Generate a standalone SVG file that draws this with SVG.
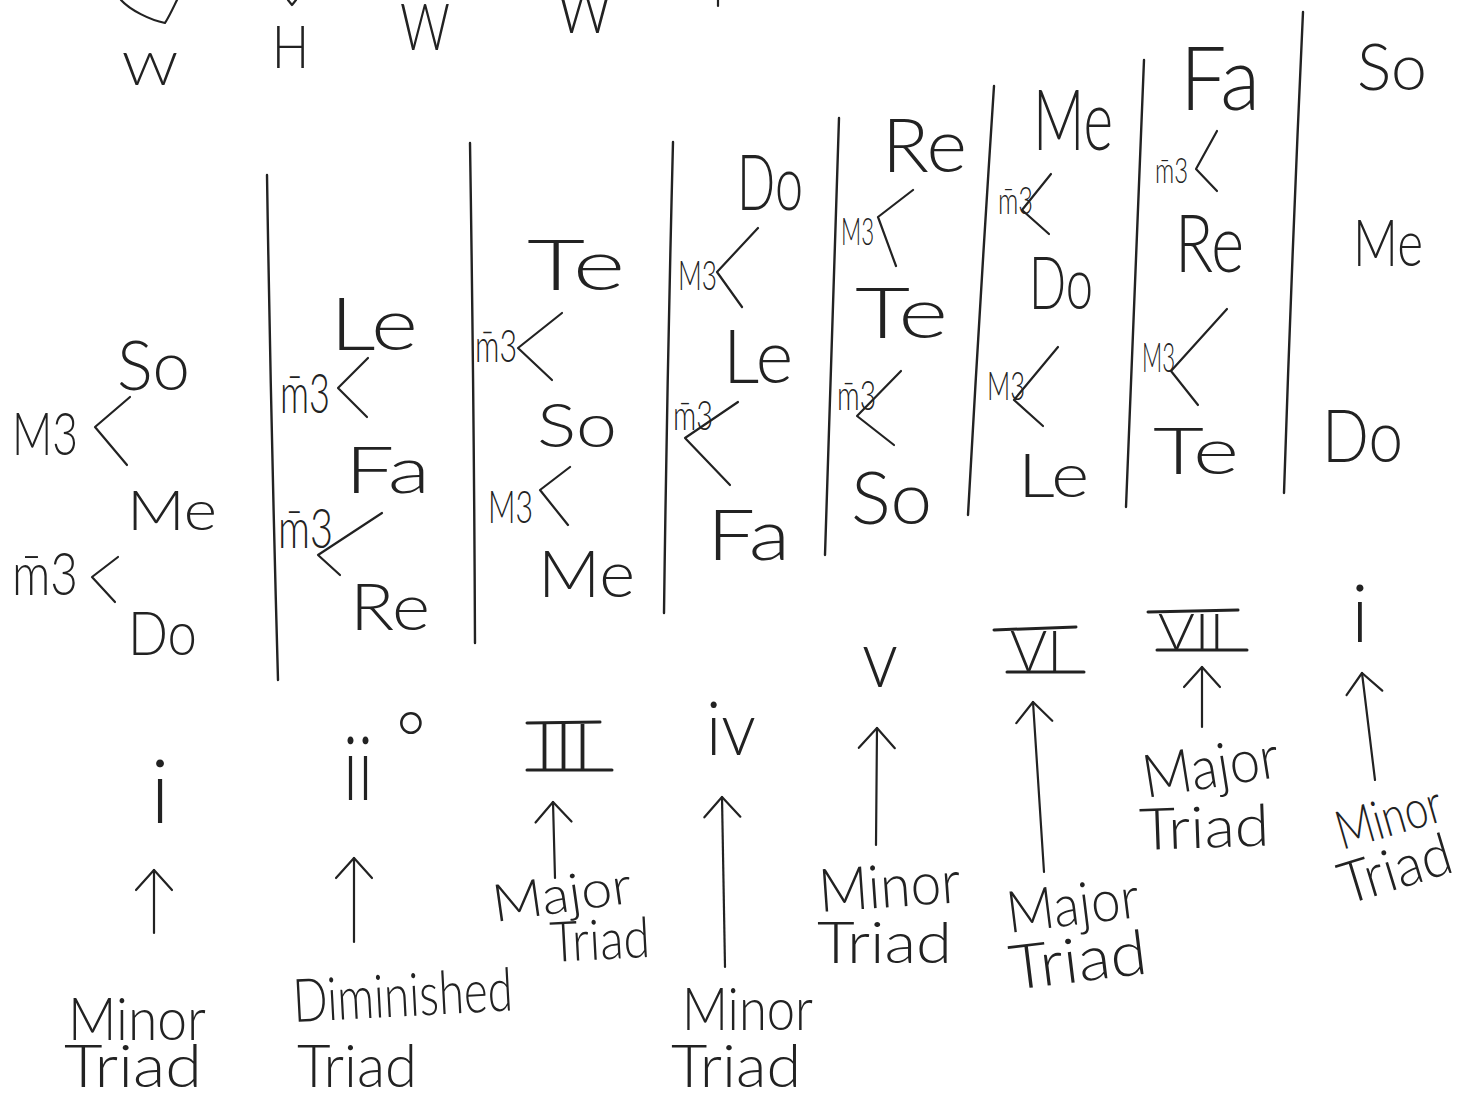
<svg xmlns="http://www.w3.org/2000/svg" width="1469" height="1099" viewBox="0 0 1469 1099">
<style>
text{font-family:Lato,"Open Sans","Liberation Sans",sans-serif;font-weight:300;fill:#222}
.ln{fill:none;stroke:#222;stroke-width:2.2;stroke-linecap:round;stroke-linejoin:round}
.bar{fill:none;stroke:#222;stroke-width:3;stroke-linecap:round}
.arrow{fill:none;stroke:#222;stroke-width:2.2;stroke-linecap:round;marker-end:url(#ah)}
.div{fill:none;stroke:#222;stroke-width:2.4;stroke-linecap:round}
</style>
<defs>
<marker id="ah" markerUnits="userSpaceOnUse" markerWidth="24" markerHeight="40" refX="21" refY="20" orient="auto" overflow="visible"><path d="M1,2 L21,20 L1,38" class="ln"/></marker>
</defs>
<rect width="1469" height="1099" fill="#fff"/>

<g id="top-steps">
<path class="ln" d="M121,0 C130,10 150,20 165,23 C170,15 174,6 177,0"/>
<path class="ln" d="M288,0 L292,5 L296,0"/>
<path class="ln" d="M718,0 L718,6"/>
<g id="step-w1"><text x="122" y="85" font-size="46" textLength="56" lengthAdjust="spacingAndGlyphs">W</text></g>
<g id="step-h"><text x="272" y="68" font-size="60" textLength="37" lengthAdjust="spacingAndGlyphs">H</text></g>
<g id="step-w2"><text x="400" y="50" font-size="65" textLength="50" lengthAdjust="spacingAndGlyphs">W</text></g>
<g id="step-w3"><text x="557" y="33" font-size="63" textLength="55" lengthAdjust="spacingAndGlyphs">W</text></g>
</g>

<g id="dividers">
<path class="div" d="M267,175 Q271,430 278,680"/>
<path class="div" d="M470,143 Q474,400 475,643"/>
<path class="div" d="M673,142 Q667,380 664,613"/>
<path class="div" d="M839,118 Q831,340 825,555"/>
<path class="div" d="M994,86 Q980,300 968,515"/>
<path class="div" d="M1144,60 Q1134,290 1126,507"/>
<path class="div" d="M1303,12 Q1292,250 1284,493"/>
</g>

<g id="connectors">
<polyline class="ln" points="130,397 95,427 127,465"/>
<polyline class="ln" points="118,557 92,577 115,602"/>
<polyline class="ln" points="368,358 338,388 367,417"/>
<polyline class="ln" points="382,513 318,555 340,575"/>
<polyline class="ln" points="562,313 518,348 552,380"/>
<polyline class="ln" points="570,467 540,490 568,525"/>
<polyline class="ln" points="758,228 717,272 742,307"/>
<polyline class="ln" points="738,402 685,438 730,485"/>
<polyline class="ln" points="913,190 878,217 896,266"/>
<polyline class="ln" points="901,371 857,416 894,445"/>
<polyline class="ln" points="1051,174 1022,210 1049,234"/>
<polyline class="ln" points="1058,347 1014,400 1043,426"/>
<polyline class="ln" points="1217,131 1196,169 1217,191"/>
<polyline class="ln" points="1227,309 1171,371 1198,405"/>
<line class="arrow" x1="154" y1="933" x2="154" y2="870"/>
<line class="arrow" x1="354" y1="942" x2="354" y2="858"/>
<line class="arrow" x1="555" y1="878" x2="553" y2="802"/>
<line class="arrow" x1="725" y1="967" x2="722" y2="797"/>
<line class="arrow" x1="876" y1="845" x2="877" y2="728"/>
<line class="arrow" x1="1044" y1="872" x2="1033" y2="702"/>
<line class="arrow" x1="1202" y1="727" x2="1202" y2="667"/>
<line class="arrow" x1="1375" y1="780" x2="1362" y2="673"/>
</g>

<g id="col1">
<g id="c1-so"><text x="117" y="390" font-size="68" textLength="73" lengthAdjust="spacingAndGlyphs">So</text></g>
<g id="c1-M3"><text x="12" y="455" font-size="60" textLength="66" lengthAdjust="spacingAndGlyphs">M3</text></g>
<g id="c1-me"><text x="127" y="530" font-size="56" textLength="90" lengthAdjust="spacingAndGlyphs">Me</text></g>
<g id="c1-m3"><text x="12" y="595" font-size="60" textLength="66" lengthAdjust="spacingAndGlyphs">m&#x304;3</text></g>
<g id="c1-do"><text x="128" y="655" font-size="62" textLength="69" lengthAdjust="spacingAndGlyphs">Do</text></g>
</g>

<g id="col2">
<g id="c2-le"><text x="330" y="350" font-size="72" textLength="88" lengthAdjust="spacingAndGlyphs">Le</text></g>
<g id="c2-m3a"><text x="280" y="413" font-size="55" textLength="50" lengthAdjust="spacingAndGlyphs">m&#x304;3</text></g>
<g id="c2-fa"><text x="345" y="493" font-size="66" textLength="85" lengthAdjust="spacingAndGlyphs">Fa</text></g>
<g id="c2-m3b"><text x="278" y="548" font-size="55" textLength="55" lengthAdjust="spacingAndGlyphs">m&#x304;3</text></g>
<g id="c2-re"><text x="350" y="630" font-size="66" textLength="80" lengthAdjust="spacingAndGlyphs">Re</text></g>
</g>

<g id="col3">
<g id="c3-te"><text x="527" y="290" font-size="70" textLength="98" lengthAdjust="spacingAndGlyphs">Te</text></g>
<g id="c3-m3"><text x="475" y="362" font-size="45" textLength="42" lengthAdjust="spacingAndGlyphs">m&#x304;3</text></g>
<g id="c3-so"><text x="537" y="447" font-size="62" textLength="80" lengthAdjust="spacingAndGlyphs">So</text></g>
<g id="c3-M3"><text x="488" y="523" font-size="45" textLength="45" lengthAdjust="spacingAndGlyphs">M3</text></g>
<g id="c3-me"><text x="538" y="597" font-size="66" textLength="97" lengthAdjust="spacingAndGlyphs">Me</text></g>
</g>

<g id="col4">
<g id="c4-do"><text x="737" y="210" font-size="76" textLength="66" lengthAdjust="spacingAndGlyphs">Do</text></g>
<g id="c4-M3"><text x="678" y="290" font-size="42" textLength="39" lengthAdjust="spacingAndGlyphs">M3</text></g>
<g id="c4-le"><text x="723" y="383" font-size="74" textLength="70" lengthAdjust="spacingAndGlyphs">Le</text></g>
<g id="c4-m3"><text x="673" y="430" font-size="42" textLength="40" lengthAdjust="spacingAndGlyphs">m&#x304;3</text></g>
<g id="c4-fa"><text x="707" y="560" font-size="70" textLength="83" lengthAdjust="spacingAndGlyphs">Fa</text></g>
</g>

<g id="col5">
<g id="c5-re"><text x="882" y="172" font-size="74" textLength="85" lengthAdjust="spacingAndGlyphs">Re</text></g>
<g id="c5-M3"><text x="841" y="245" font-size="38" textLength="33" lengthAdjust="spacingAndGlyphs">M3</text></g>
<g id="c5-te"><text x="855" y="338" font-size="70" textLength="93" lengthAdjust="spacingAndGlyphs">Te</text></g>
<g id="c5-m3"><text x="837" y="410" font-size="42" textLength="39" lengthAdjust="spacingAndGlyphs">m&#x304;3</text></g>
<g id="c5-so"><text x="851" y="524" font-size="72" textLength="81" lengthAdjust="spacingAndGlyphs">So</text></g>
</g>

<g id="col6">
<g id="c6-me"><text x="1033" y="150" font-size="84" textLength="80" lengthAdjust="spacingAndGlyphs">Me</text></g>
<g id="c6-m3"><text x="998" y="214" font-size="38" textLength="35" lengthAdjust="spacingAndGlyphs">m&#x304;3</text></g>
<g id="c6-do"><text x="1029" y="309" font-size="72" textLength="64" lengthAdjust="spacingAndGlyphs">Do</text></g>
<g id="c6-M3"><text x="987" y="400" font-size="40" textLength="38" lengthAdjust="spacingAndGlyphs">M3</text></g>
<g id="c6-le"><text x="1018" y="497" font-size="62" textLength="71" lengthAdjust="spacingAndGlyphs">Le</text></g>
</g>

<g id="col7">
<g id="c7-fa"><text x="1180" y="110" font-size="88" textLength="80" lengthAdjust="spacingAndGlyphs">Fa</text></g>
<g id="c7-m3"><text x="1155" y="183" font-size="36" textLength="33" lengthAdjust="spacingAndGlyphs">m&#x304;3</text></g>
<g id="c7-re"><text x="1175" y="272" font-size="80" textLength="69" lengthAdjust="spacingAndGlyphs">Re</text></g>
<g id="c7-M3"><text x="1142" y="372" font-size="42" textLength="33" lengthAdjust="spacingAndGlyphs">M3</text></g>
<g id="c7-te"><text x="1153" y="474" font-size="66" textLength="86" lengthAdjust="spacingAndGlyphs">Te</text></g>
</g>

<g id="col8">
<g id="c8-so"><text x="1357" y="90" font-size="66" textLength="70" lengthAdjust="spacingAndGlyphs">So</text></g>
<g id="c8-me"><text x="1353" y="266" font-size="66" textLength="70" lengthAdjust="spacingAndGlyphs">Me</text></g>
<g id="c8-do"><text x="1322" y="462" font-size="72" textLength="81" lengthAdjust="spacingAndGlyphs">Do</text></g>
</g>

<g id="numerals">
<g id="n-i"><text x="160" y="823" font-size="88" text-anchor="middle">i</text></g>
<g id="n-ii"><text x="343" y="800" font-size="88" textLength="30" lengthAdjust="spacingAndGlyphs">ii</text><text x="396" y="765" font-size="72">°</text></g>
<g id="n-III"><line class="bar" x1="527" y1="723" x2="600" y2="722"/><line class="bar" x1="527" y1="770" x2="612" y2="770"/><text x="535" y="770" font-size="65" textLength="57" lengthAdjust="spacingAndGlyphs">III</text></g>
<g id="n-iv"><text x="706" y="755" font-size="75" textLength="50" lengthAdjust="spacingAndGlyphs">iv</text></g>
<g id="n-v"><text x="862" y="687" font-size="80" textLength="36" lengthAdjust="spacingAndGlyphs">v</text></g>
<g id="n-VI"><line class="bar" x1="994" y1="630" x2="1076" y2="627"/><line class="bar" x1="1007" y1="672" x2="1084" y2="672"/><text x="1010" y="672" font-size="58" textLength="52" lengthAdjust="spacingAndGlyphs">VI</text></g>
<g id="n-VII"><line class="bar" x1="1148" y1="612" x2="1238" y2="610"/><line class="bar" x1="1157" y1="650" x2="1247" y2="650"/><text x="1158" y="650" font-size="52" textLength="66" lengthAdjust="spacingAndGlyphs">VII</text></g>
<g id="n-i2"><text x="1360" y="642" font-size="80" text-anchor="middle">i</text></g>
</g>

<g id="qualities">
<g id="q1"><text x="68" y="1040" font-size="60" textLength="138" lengthAdjust="spacingAndGlyphs">Minor</text><text x="64" y="1087" font-size="60" textLength="138" lengthAdjust="spacingAndGlyphs">Triad</text></g>
<g id="q2"><text x="294" y="1022" font-size="60" textLength="220" lengthAdjust="spacingAndGlyphs" transform="rotate(-3 294 1022)">Diminished</text><text x="297" y="1087" font-size="60" textLength="120" lengthAdjust="spacingAndGlyphs">Triad</text></g>
<g id="q3"><text x="495" y="922" font-size="52" textLength="140" lengthAdjust="spacingAndGlyphs" transform="rotate(-8 495 922)">Major</text><text x="551" y="962" font-size="56" textLength="100" lengthAdjust="spacingAndGlyphs" transform="rotate(-3 551 962)">Triad</text></g>
<g id="q4"><text x="682" y="1030" font-size="60" textLength="131" lengthAdjust="spacingAndGlyphs">Minor</text><text x="671" y="1087" font-size="60" textLength="130" lengthAdjust="spacingAndGlyphs">Triad</text></g>
<g id="q5"><text x="820" y="912" font-size="60" textLength="142" lengthAdjust="spacingAndGlyphs" transform="rotate(-4 820 912)">Minor</text><text x="817" y="963" font-size="58" textLength="135" lengthAdjust="spacingAndGlyphs">Triad</text></g>
<g id="q6"><text x="1009" y="933" font-size="58" textLength="133" lengthAdjust="spacingAndGlyphs" transform="rotate(-7 1009 933)">Major</text><text x="1012" y="990" font-size="62" textLength="138" lengthAdjust="spacingAndGlyphs" transform="rotate(-7 1012 990)">Triad</text></g>
<g id="q7"><text x="1146" y="798" font-size="60" textLength="137" lengthAdjust="spacingAndGlyphs" transform="rotate(-9 1146 798)">Major</text><text x="1140" y="850" font-size="58" textLength="130" lengthAdjust="spacingAndGlyphs" transform="rotate(-2 1140 850)">Triad</text></g>
<g id="q8"><text x="1342" y="850" font-size="54" textLength="108" lengthAdjust="spacingAndGlyphs" transform="rotate(-16 1342 850)">Minor</text><text x="1346" y="905" font-size="58" textLength="115" lengthAdjust="spacingAndGlyphs" transform="rotate(-17 1346 905)">Triad</text></g>
</g>
</svg>
